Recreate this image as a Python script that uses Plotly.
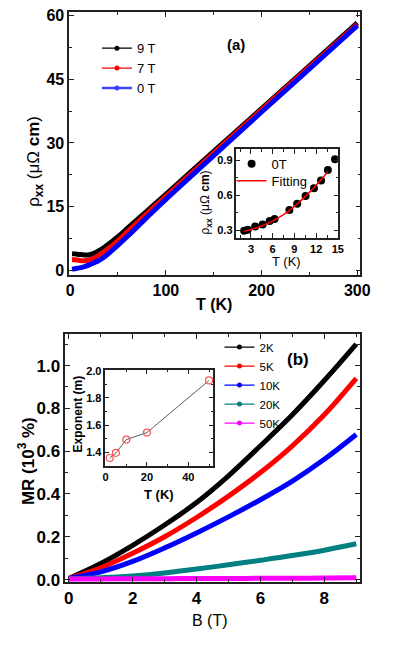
import plotly.graph_objects as go

W, H = 415, 660
def px(x): return x / W
def py(y): return 1 - y / H

# ---------------- Panel (a) data ----------------
T_a = [2, 5, 10, 15, 20, 25, 30, 35, 40, 50, 60, 80, 100, 150, 200, 250, 300]
rho_9T = [3.9, 3.85, 3.7, 3.6, 3.65, 4.0, 4.6, 5.3, 6.1, 7.9, 9.9, 13.9, 17.9, 28.0, 38.1, 48.2, 58.3]
rho_7T = [2.5, 2.45, 2.3, 2.25, 2.4, 2.85, 3.5, 4.3, 5.1, 7.0, 9.1, 13.3, 17.4, 27.6, 37.8, 47.9, 58.0]
rho_0T = [0.25, 0.35, 0.55, 0.85, 1.25, 1.75, 2.3, 3.0, 3.9, 5.9, 8.0, 12.4, 16.7, 27.0, 37.3, 47.5, 57.7]

# inset (a)
T_in = [2.06, 2.56, 3.58, 4.61, 5.59, 6.26, 8.31, 9.38, 10.54, 11.7, 12.68, 13.62, 14.61]
rho_in = [0.295, 0.303, 0.331, 0.35, 0.379, 0.396, 0.474, 0.527, 0.594, 0.659, 0.726, 0.816, 0.908]
T_fit = [2, 3, 4, 5, 6, 7, 8, 9, 10, 11, 12, 13, 13.6]
rho_fit = [0.29, 0.305, 0.325, 0.35, 0.38, 0.415, 0.455, 0.505, 0.56, 0.62, 0.685, 0.755, 0.80]

# ---------------- Panel (b) data ----------------
B = [0, 1, 2, 3, 4, 5, 6, 7, 8, 9]
MR_2K = [0.005, 0.075, 0.16, 0.255, 0.36, 0.485, 0.625, 0.77, 0.93, 1.10]
MR_5K = [0.005, 0.055, 0.123, 0.20, 0.29, 0.39, 0.50, 0.625, 0.77, 0.94]
MR_10K = [0.005, 0.036, 0.085, 0.148, 0.218, 0.293, 0.373, 0.46, 0.562, 0.678]
MR_20K = [0.004, 0.008, 0.017, 0.031, 0.049, 0.069, 0.09, 0.112, 0.137, 0.167]
MR_50K = [0.003, 0.003, 0.004, 0.004, 0.005, 0.005, 0.006, 0.006, 0.007, 0.008]

# inset (b)
T_exp = [2, 5, 10, 20, 50]
m_exp = [1.359, 1.397, 1.494, 1.546, 1.928]

FONT = "Liberation Sans, Arial, sans-serif"
fig = go.Figure()

def leg_dummy(name, color, legend, lw=1.2, ms=5):
    fig.add_trace(go.Scatter(x=[None], y=[None], mode="lines+markers", name=name,
                             line=dict(color=color, width=lw), marker=dict(color=color, size=ms),
                             legend=legend, showlegend=True, xaxis="x", yaxis="y"))

# Panel (a) main curves
for y, c in [(rho_9T, "#000000"), (rho_7T, "#ff0000"), (rho_0T, "#0000ff")]:
    fig.add_trace(go.Scatter(x=T_a, y=y, mode="lines", line=dict(color=c, width=5, shape="spline", smoothing=1.0),
                             showlegend=False, xaxis="x", yaxis="y"))
leg_dummy("9 T", "#000000", "legend")
leg_dummy("7 T", "#ff0000", "legend")
leg_dummy("0 T", "#4040ff", "legend", lw=2.5)

# inset (a)
fig.add_trace(go.Scatter(x=T_in, y=rho_in, mode="markers", name="0T",
                         marker=dict(color="black", size=8), legend="legend2", xaxis="x2", yaxis="y2"))
fig.add_trace(go.Scatter(x=T_fit, y=rho_fit, mode="lines", name="Fitting",
                         line=dict(color="#ff0000", width=1.5, shape="spline"), legend="legend4", xaxis="x2", yaxis="y2"))

# Panel (b) main curves
cols_b = ["#000000", "#ff0000", "#0000ff", "#008080", "#ff00ff"]
names_b = ["2K", "5K", "10K", "20K", "50K"]
for y, c in zip([MR_2K, MR_5K, MR_10K, MR_20K, MR_50K], cols_b):
    fig.add_trace(go.Scatter(x=B, y=y, mode="lines", line=dict(color=c, width=5, shape="spline", smoothing=1.0),
                             showlegend=False, xaxis="x3", yaxis="y3"))
for c, n in zip(cols_b, names_b):
    fig.add_trace(go.Scatter(x=[None], y=[None], mode="lines+markers", name=n,
                             line=dict(color=c, width=1.2), marker=dict(color=c, size=5),
                             legend="legend3", xaxis="x3", yaxis="y3"))

# inset (b)
fig.add_trace(go.Scatter(x=T_exp, y=m_exp, mode="lines+markers", showlegend=False,
                         line=dict(color="#333333", width=0.8),
                         marker=dict(symbol="circle-open", color="#ff5050", size=7, line=dict(width=1.2)),
                         xaxis="x4", yaxis="y4"))

def ax(domain, rng, dtick, mdtick, anchor, fs, tlen=5, mlen=3, fmt=None):
    d = dict(domain=domain, range=rng, dtick=dtick, tick0=0, anchor=anchor,
             showline=True, linecolor="#222222", linewidth=1.5, mirror="allticks",
             ticks="inside", ticklen=tlen, tickwidth=1.2, tickcolor="#222222",
             showgrid=False, zeroline=False,
             tickfont=dict(family=FONT, size=fs, color="black", weight="bold"),
             minor=dict(dtick=mdtick, tick0=0, ticks="inside", ticklen=mlen, tickcolor="#222222", tickwidth=1.2))
    if fmt:
        d["tickformat"] = fmt
    return d

def leg(x, y, size):
    return dict(x=px(x), y=py(y), xanchor="left", yanchor="middle", bgcolor="rgba(0,0,0,0)",
                font=dict(family=FONT, size=size, color="black"), tracegroupgap=0)

layout = dict(
    width=W, height=H, margin=dict(l=0, r=0, t=0, b=0),
    paper_bgcolor="white", plot_bgcolor="white",
    font=dict(family=FONT, color="black"),
    xaxis=ax([px(68.3), px(369)], [-1.0, 303.3], 100, 50, "y", 16),
    yaxis=ax([py(274), py(6.5)], [-1.04, 60.8], 15, 7.5, "x", 16),
    xaxis2=ax([px(241), px(345.7)], [1.0, 15.0], 3, 1.5, "y2", 11),
    yaxis2=ax([py(236.7), py(145.7)], [0.233, 0.997], 0.3, 0.15, "x2", 11, tlen=4, mlen=2, fmt=".1f"),
    xaxis3=ax([px(64.3), px(368.3)], [-0.11, 9.11], 2, 1, "y3", 17),
    yaxis3=ax([py(587.7), py(334.7)], [-0.012, 1.147], 0.2, 0.1, "x3", 17, fmt=".1f"),
    xaxis4=ax([px(105.7), px(217)], [-0.1, 52], 20, 10, "y4", 11, tlen=4, mlen=2),
    yaxis4=ax([py(469.3), py(371.7)], [1.30, 2.002], 0.2, 0.1, "x4", 11, tlen=4, mlen=2, fmt=".1f"),
    legend=leg(97, 63.5, 13),
    legend2=leg(236, 161, 13),
    legend4=leg(236, 178.3, 13),
    legend3=leg(223.5, 386.7, 11.5),
)
fig.update_layout(**layout)

def ann(x, y, text, size, angle=0, bold=False):
    fig.add_annotation(x=px(x), y=py(y), xref="paper", yref="paper", text=text, showarrow=False,
                       textangle=angle, xanchor="center", yanchor="middle",
                       font=dict(family=FONT, size=size, color="black", weight="bold" if bold else "normal"))

ann(240.7, 39.3, "(a)", 15, bold=True)
ann(305, 361, "(b)", 17, bold=True)
ann(218.3, 305, "T (K)", 16, bold=True)
ann(214, 627, "B (T)", 16)
ann(33, 158, "ρ<sub><b>xx</b></sub> (μΩ <b>cm</b>)", 17, angle=-90)
ann(24, 464, "MR (10<sup>3</sup> %)", 17, angle=-90, bold=True)
ann(210, 200, "ρ<sub><b>xx</b></sub> (μΩ <b>cm</b>)", 12, angle=-90)
ann(293, 261, "T (K)", 13)
ann(77, 416, "Exponent (m)", 12, angle=-90, bold=True)
ann(161, 498, "T (K)", 13, bold=True)

fig.write_html("out.html", config={"displayModeBar": False},
               post_script="document.body.style.margin='0';document.body.style.overflow='hidden';")
